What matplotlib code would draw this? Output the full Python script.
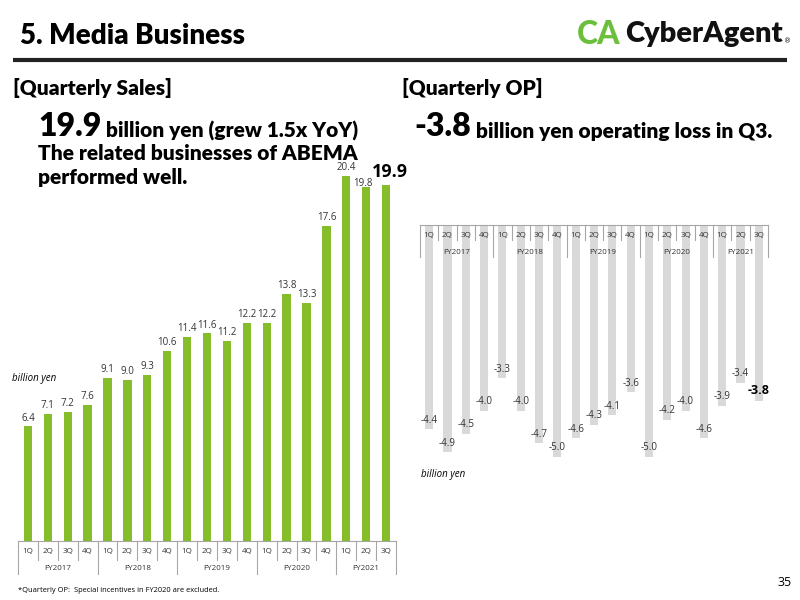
import matplotlib
matplotlib.use("Agg")
import matplotlib.pyplot as plt
import matplotlib.transforms as mtransforms

quarters = ["1Q", "2Q", "3Q", "4Q"] * 4 + ["1Q", "2Q", "3Q"]
years = ["FY2017", "FY2018", "FY2019", "FY2020", "FY2021"]
sales = [6.4, 7.1, 7.2, 7.6, 9.1, 9.0, 9.3, 10.6, 11.4, 11.6, 11.2, 12.2,
         12.2, 13.8, 13.3, 17.6, 20.4, 19.8, 19.9]
op = [-4.4, -4.9, -4.5, -4.0, -3.3, -4.0, -4.7, -5.0, -4.6, -4.3, -4.1, -3.6,
      -5.0, -4.2, -4.0, -4.6, -3.9, -3.4, -3.8]

W, H = 800, 600
GREEN = "#85bd2b"
GREY = "#d9d9d9"
LINE = "#a6a6a6"
TITLE_FONT = ["Lato", "DejaVu Sans"]
SMALL_FONT = ["Open Sans", "DejaVu Sans"]
HW = "heavy"

fig = plt.figure(figsize=(8, 6), dpi=100)


def px_axes(left, top, right, bottom):
    return fig.add_axes([left / W, 1 - bottom / H, (right - left) / W, (bottom - top) / H])


# overlay for slide text, pixel coordinates
ov = fig.add_axes([0, 0, 1, 1])
ov.set_xlim(0, W)
ov.set_ylim(H, 0)
ov.axis("off")
ov.set_zorder(5)

ov.text(20, 36, "5. Media Business", fontsize=20, fontweight=HW, family=TITLE_FONT, va="center")
ov.plot([13, 787], [60, 60], color="#222222", lw=3, solid_capstyle="butt")

# logo
ov.text(577, 34, "CA", fontsize=23, fontweight="black", color="#6cbf3c", family=TITLE_FONT, va="center")
ov.text(625, 34, "CyberAgent", fontsize=21, fontweight=HW, color="#111111", family=TITLE_FONT, va="center")
ov.text(784, 41, "®", fontsize=5, color="#111111", va="center")

ov.text(13, 88, "[Quarterly Sales]", fontsize=15, fontweight=HW, family=TITLE_FONT, va="center")
ov.text(402, 88, "[Quarterly OP]", fontsize=15, fontweight=HW, family=TITLE_FONT, va="center")

t = ov.text(38, 136, "19.9", fontsize=23, fontweight=HW, family=TITLE_FONT, va="baseline")
ov.annotate(" billion yen (grew 1.5x YoY)", xycoords=t, xy=(1, 0), va="bottom",
            fontsize=15, fontweight=HW, family=TITLE_FONT)
ov.text(38, 160, "The related businesses of ABEMA", fontsize=15, fontweight=HW, family=TITLE_FONT, va="baseline")
ov.text(38, 184, "performed well.", fontsize=15, fontweight=HW, family=TITLE_FONT, va="baseline")

t2 = ov.text(414, 136, "-3.8", fontsize=23, fontweight=HW, family=TITLE_FONT, va="baseline")
ov.annotate(" billion yen operating loss in Q3.", xycoords=t2, xy=(1, 0), va="bottom",
            fontsize=15, fontweight=HW, family=TITLE_FONT)

ov.text(12, 378, "billion yen", fontsize=7, style="italic", family=SMALL_FONT, va="center")
ov.text(421, 475, "billion yen", fontsize=7, style="italic", family=SMALL_FONT, va="center")
ov.text(18, 590, "*Quarterly OP:  Special incentives in FY2020 are excluded.", fontsize=5.4,
        family=SMALL_FONT, va="center")
ov.text(777, 583, "35", fontsize=9, family=SMALL_FONT, va="center")

n = len(sales)
x = list(range(n))


def draw_table(ax, y0, y1, y2, qy, fy):
    # y in axes fraction: y0 top line, y1 end of quarter row, y2 end of year row
    tr = mtransforms.blended_transform_factory(ax.transData, ax.transAxes)
    ax.plot([-0.5, n - 0.5], [y0, y0], color=LINE, lw=0.8, transform=tr, clip_on=False)
    for i in range(n + 1):
        xb = i - 0.5
        end = y2 if i % 4 == 0 or i == n else y1
        ax.plot([xb, xb], [y0, end], color=LINE, lw=0.8, transform=tr, clip_on=False)
    for i, q in enumerate(quarters):
        ax.text(i, qy, q, transform=tr, ha="center", va="center", fontsize=5.8,
                family=SMALL_FONT, color="#333333", clip_on=False)
    for k, fyl in enumerate(years):
        lo = 4 * k - 0.5
        hi = min(4 * k + 3.5, n - 0.5)
        ax.text((lo + hi) / 2, fy, fyl, transform=tr, ha="center", va="center", fontsize=5.8,
                family=SMALL_FONT, color="#333333", clip_on=False)


# left: quarterly sales
ax1 = px_axes(18, 160, 396, 541)
ax1.bar(x, sales, width=0.42, color=GREEN, zorder=2)
ax1.set_xlim(-0.5, n - 0.5)
ax1.set_ylim(0, (541 - 160) / 17.9)
ax1.axis("off")
for i, v in enumerate(sales):
    if i == n - 1:
        ax1.annotate(f"{v:.1f}", (i, v), xytext=(3, 9), textcoords="offset points", ha="center",
                     va="center", fontsize=13, fontweight="bold", family=SMALL_FONT)
    elif i == n - 2:
        ax1.annotate(f"{v:.1f}", (i, v), xytext=(-2, 2.5), textcoords="offset points", ha="center",
                     va="center", fontsize=7, family=SMALL_FONT, color="#333333")
    else:
        ax1.annotate(f"{v:.1f}", (i, v), xytext=(0, 6), textcoords="offset points", ha="center",
                     va="center", fontsize=7, family=SMALL_FONT, color="#333333")
# table: 541 -> 560 -> 574 px, labels at 553 / 569
h1 = 541 - 160
draw_table(ax1, 0, -(560 - 541) / h1, -(574 - 541) / h1, -(552 - 541) / h1, -(568 - 541) / h1)

# right: quarterly OP
ax2 = px_axes(420, 225, 768, 470)
ax2.bar(x, op, width=0.44, color=GREY, zorder=1)
ax2.set_xlim(-0.5, n - 0.5)
ax2.set_ylim(-(470 - 225) / 46.4, 0)
ax2.axis("off")
for i, v in enumerate(op):
    if i == n - 1:
        ax2.annotate(f"{v:.1f}", (i, v), xytext=(0, 7.5), textcoords="offset points", ha="center",
                     va="center", fontsize=9, fontweight="bold", family=SMALL_FONT)
    else:
        ax2.annotate(f"{v:.1f}", (i, v), xytext=(0, 6.5), textcoords="offset points", ha="center",
                     va="center", fontsize=7, family=SMALL_FONT, color="#333333")
h2 = 470 - 225
draw_table(ax2, 1, 1 - (240 - 225) / h2, 1 - (257 - 225) / h2, 1 - (236 - 225) / h2,
           1 - (252 - 225) / h2)

fig.savefig("out.png", dpi=100)
